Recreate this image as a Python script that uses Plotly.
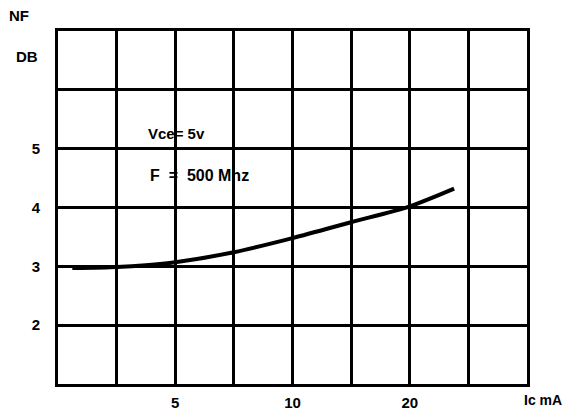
import math
import plotly.graph_objects as go

# Noise figure vs collector current (Vce = 5 V, F = 500 MHz)
ic_ma = [2.72, 3.54, 4.2, 5.0, 7.07, 10.0, 14.14, 20.0, 26.0]
nf_db = [2.97, 2.99, 3.02, 3.07, 3.24, 3.48, 3.75, 4.02, 4.32]

# Log grid: each column is a factor of sqrt(2), from 2.5 mA to 40 mA
x_grid = [2.5, 3.54, 5.0, 7.07, 10.0, 14.14, 20.0, 28.28, 40.0]
x_labels = ["", "", "5", "", "10", "", "20", "", ""]
y_grid = [1, 2, 3, 4, 5, 6, 7]
y_labels = ["", "2", "3", "4", "5", "", ""]

FONT = "Liberation Sans, Arial, sans-serif"
ML, MR, MT, MB = 58, 35, 31, 30
W, H = 562, 414

fig = go.Figure()
fig.add_trace(go.Scatter(
    x=ic_ma, y=nf_db, mode="lines",
    line=dict(color="black", width=4, shape="spline", smoothing=0.8),
    hoverinfo="skip", showlegend=False,
))

axis_style = dict(
    tickmode="array",
    showgrid=True, gridcolor="black", gridwidth=3,
    showline=True, linecolor="black", linewidth=3, mirror=True,
    ticks="", zeroline=False, automargin=False,
    tickfont=dict(family=FONT, size=15, color="black"),
)

fig.update_layout(
    width=W, height=H,
    margin=dict(l=ML, r=MR, t=MT, b=MB, autoexpand=False),
    paper_bgcolor="white", plot_bgcolor="white",
    font=dict(family=FONT, size=15, color="black"),
    xaxis=dict(
        type="log", range=[math.log10(2.5), math.log10(40)],
        tickvals=x_grid,
        ticktext=[f"<b>{t}</b>" if t else "" for t in x_labels],
        ticklabelstandoff=3, **axis_style,
    ),
    yaxis=dict(
        range=[1, 7],
        tickvals=y_grid,
        ticktext=[f"<b>{t}</b>" if t else "" for t in y_labels],
        ticklabelstandoff=12, **axis_style,
    ),
)

# Free-floating labels, positioned in page pixels
labels = [
    ("<b>NF</b>", 19, 15, 15),
    ("<b>Ic mA</b>", 543, 400, 14),
    ("<b>DB</b>", 27, 57, 15),
    ("<b>Vce= 5v</b>", 176, 133, 15),
    ("<b>F  =  500 Mhz</b>", 199, 175, 16),
]
plot_w = W - ML - MR
plot_h = H - MT - MB
for text, px, py, size in labels:
    fig.add_annotation(
        text=text, showarrow=False,
        xref="paper", yref="paper",
        x=(px - ML) / plot_w, y=(H - MB - py) / plot_h,
        xanchor="center", yanchor="middle",
        font=dict(family=FONT, size=size, color="black"),
    )

fig.write_html("out.html")
